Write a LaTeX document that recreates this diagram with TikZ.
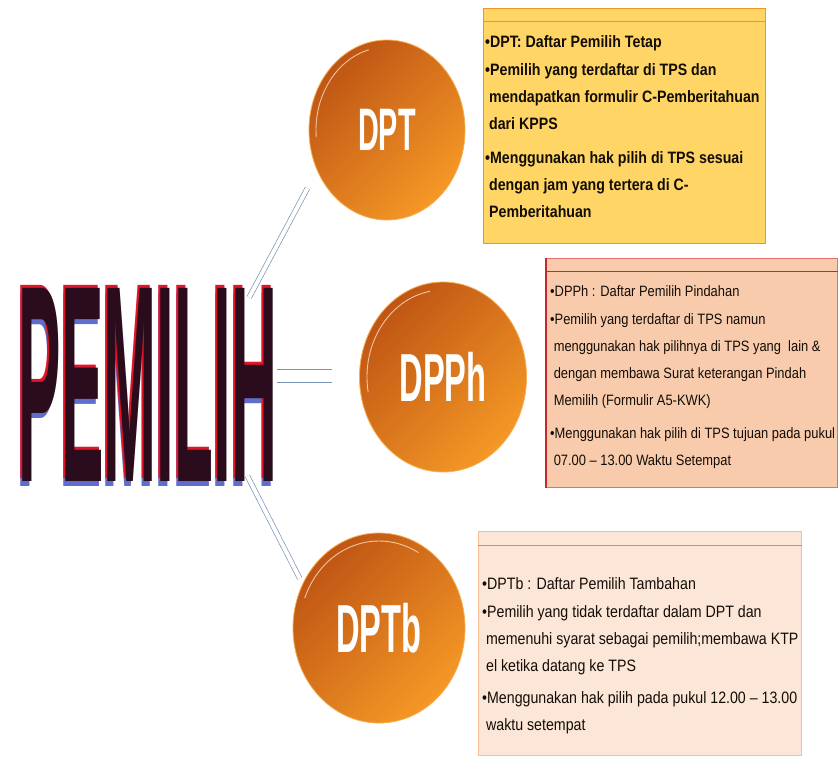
\documentclass[tikz,border=0pt]{standalone}
\usepackage{fontspec}
\usepackage{graphicx}
\setmainfont{Liberation Sans}
\newfontfamily\narrowfont[FakeStretch=0.86]{Liberation Sans}
\newfontfamily\circfont[FakeStretch=0.48]{Liberation Sans}
\usetikzlibrary{shapes.geometric,positioning,calc}

\definecolor{orangedark}{RGB}{190,85,20}
\definecolor{orangelight}{RGB}{245,152,38}
\definecolor{linkblue}{RGB}{120,150,180}
\definecolor{dptfill}{RGB}{255,214,102}
\definecolor{dptline}{RGB}{240,150,40}
\definecolor{dpphfill}{RGB}{248,203,173}
\definecolor{dpphline}{RGB}{232,110,110}
\definecolor{dpphedge}{RGB}{200,40,40}
\definecolor{dptbfill}{RGB}{252,230,216}
\definecolor{dptbline}{RGB}{245,190,150}
\definecolor{dptbrule}{RGB}{215,140,100}
\definecolor{pemilihdark}{RGB}{42,12,28}
\definecolor{pemilihred}{RGB}{225,20,40}
\definecolor{pemilihblue}{RGB}{95,110,205}

% big word with red edge and blue shadow
\newcommand{\pemilihword}{\resizebox{258pt}{193pt}{PEMILIH}}
\newcommand{\pemilihlayers}{%
    \rlap{\hspace{-2pt}\raisebox{-5pt}{\color{pemilihblue}\pemilihword}}%
    \rlap{\hspace{-2pt}\raisebox{3pt}{\color{pemilihred}\pemilihword}}%
    {\color{pemilihdark}\pemilihword}}

\begin{document}
\begin{tikzpicture}[
    x=1pt, y=1pt,
    bubble/.style={ellipse, inner sep=0, draw=orangelight!80!white, line width=0.8pt,
        top color=orangedark, bottom color=orangelight, shading angle=45,
        font=\circfont\bfseries\fontsize{60}{60}\selectfont, text=white},
    rim/.style={draw=white!75!orange, line width=0.9pt, opacity=0.8},
    frame/.style={draw, rectangle, anchor=north west, inner sep=0, line width=1.2pt},
    info/.style={anchor=north west, inner sep=0, align=left, text=black!90!brown},
    link/.style={draw=linkblue, line width=0.7pt, double=white, double distance=4pt},
    bigword/.style={inner sep=0, font=\bfseries}
]
\useasboundingbox[fill=white] (0,0) rectangle (839,-758);

\node[bigword] (pemilih) at (148,-386) {\pemilihlayers};

% circles
\node[bubble, minimum width=156, minimum height=180] (dpt) at (387,-130) {DPT};
\node[bubble, minimum width=167, minimum height=190, font=\circfont\bfseries\fontsize{68}{68}\selectfont] (dpph) at (443,-377) {DPPh};
\node[bubble, minimum width=172, minimum height=190, font=\circfont\bfseries\fontsize{68}{68}\selectfont] (dptb) at (379,-628) {DPTb};

\draw[rim] ([shift={(105:71 and 83)}]dpt.center) arc[start angle=105, end angle=185, x radius=71, y radius=83];
\draw[rim] ([shift={(100:76 and 87)}]dpph.center) arc[start angle=100, end angle=190, x radius=76, y radius=87];
\draw[rim] ([shift={(60:79 and 87)}]dptb.center) arc[start angle=60, end angle=160, x radius=79, y radius=87];

% connectors
\draw[link, shorten >=20pt] ([shift={(-28,-12)}]pemilih.north east) -- (dpt.210);
\draw[link, double distance=12pt, shorten >=27pt] ([yshift=10]pemilih.east) -- ([yshift=10]pemilih.east -| dpph.west);
\draw[link, shorten >=6pt] ([shift={(-30,11)}]pemilih.south east) -- (dptb.150);

% DPT box
\node[frame, fill=dptfill, draw=dptline, minimum width=282, minimum height=235] (dptframe) at (483,-8) {};
\draw[dptline, line width=1pt] ([yshift=-13]dptframe.north west) -- ([yshift=-13]dptframe.north east);
\node[info, font=\narrowfont\bfseries\fontsize{16.5}{27}\selectfont] (dptinfo) at (485,-35) {%
    •DPT: Daftar Pemilih Tetap\\[1pt]
    •Pemilih yang terdaftar di TPS dan\\
    \ mendapatkan formulir C-Pemberitahuan\\
    \ dari KPPS\\[7pt]
    •Menggunakan hak pilih di TPS sesuai\\
    \ dengan jam yang tertera di C-\\
    \ Pemberitahuan};

% DPPh box
\node[frame, fill=dpphfill, draw=dpphline, minimum width=291, minimum height=229] (dpphframe) at (546,-258) {};
\draw[dpphedge, line width=1pt] ([yshift=-13]dpphframe.north west) -- ([yshift=-13]dpphframe.north east);
\draw[dpphedge, line width=1.6pt] (dpphframe.north west) -- (dpphframe.south west);
\node[info, font=\narrowfont\fontsize{15}{27}\selectfont] (dpphinfo) at (550,-285) {%
    •DPPh : Daftar Pemilih Pindahan\\[1pt]
    •Pemilih yang terdaftar di TPS namun\\
    \ menggunakan hak pilihnya di TPS yang \ lain \&\\
    \ dengan membawa Surat keterangan Pindah\\
    \ Memilih (Formulir A5-KWK)\\[6pt]
    •Menggunakan hak pilih di TPS tujuan pada pukul\\
    \ 07.00 – 13.00 Waktu Setempat};

% DPTb box
\node[frame, fill=dptbfill, draw=dptbline, minimum width=323, minimum height=224] (dptbframe) at (478,-531) {};
\draw[dptbrule, line width=1pt] ([yshift=-14]dptbframe.north west) -- ([yshift=-14]dptbframe.north east);
\node[info, font=\narrowfont\fontsize{16.5}{27}\selectfont] (dptbinfo) at (482,-577) {%
    •DPTb : Daftar Pemilih Tambahan\\[1pt]
    •Pemilih yang tidak terdaftar dalam DPT dan\\
    \ memenuhi syarat sebagai pemilih;membawa KTP\\
    \ el ketika datang ke TPS\\[5pt]
    •Menggunakan hak pilih pada pukul 12.00 – 13.00\\
    \ waktu setempat};

\end{tikzpicture}
\end{document}
